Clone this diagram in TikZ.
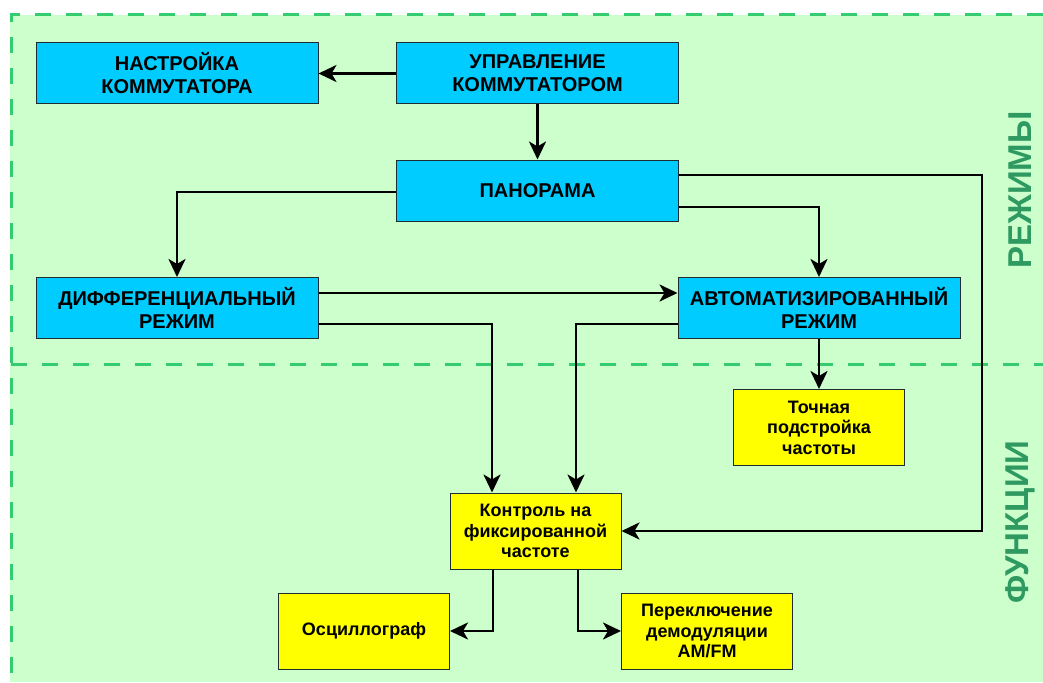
\documentclass[tikz,border=0pt]{standalone}
\usepackage{fontspec}
\setmainfont{Liberation Sans}
\usetikzlibrary{arrows.meta}
\definecolor{bg}{HTML}{CCFFCC}
\definecolor{dashg}{HTML}{33CC70}
\definecolor{lblg}{HTML}{2E9960}
\definecolor{cyanbox}{HTML}{00CCFF}
\definecolor{yelbox}{HTML}{FFFF00}
\definecolor{edge}{HTML}{1E2E30}
\begin{document}
\begin{tikzpicture}[x=1pt,y=-1pt,
  boxbase/.style={draw=edge, line width=1pt, inner sep=0pt, align=center},
  bluebox/.style={boxbase, fill=cyanbox, minimum width=282pt, minimum height=61pt,
    font=\bfseries\fontsize{20}{23}\selectfont},
  yelbox/.style={boxbase, fill=yelbox, minimum width=171pt, minimum height=76pt,
    font=\bfseries\fontsize{18}{20.5}\selectfont},
  arr/.style={line width=2.8pt, black, -{Stealth[length=18pt,width=17pt,inset=5pt]}},
  divline/.style={dashg, line width=3pt, dash pattern=on 16pt off 15pt},
  sidelbl/.style={rotate=90, text=lblg, font=\bfseries\fontsize{33}{33}\selectfont}
]
\useasboundingbox (0,0) rectangle (1043,682);
\fill[bg] (10,15) rectangle (1043,682);
\draw[divline] (1043,15) -- (11,15) -- (11,682);
\draw[divline] (11,364) -- (1043,364);

\node[bluebox] (nast) at (177,73.5) {НАСТРОЙКА\\КОММУТАТОРА};
\node[bluebox] (upr) at (537.5,73.5) {УПРАВЛЕНИЕ\\КОММУТАТОРОМ};
\node[bluebox] (pan) at (537.5,190.5) {ПАНОРАМА};
\node[bluebox] (dif) at (177,308) {ДИФФЕРЕНЦИАЛЬНЫЙ\\РЕЖИМ};
\node[bluebox] (avt) at (819,308) {АВТОМАТИЗИРОВАННЫЙ\\РЕЖИМ};

\node[yelbox] (toch) at (819,427.5) {Точная\\подстройка\\частоты};
\node[yelbox] (kontr) at (535.5,531) {Контроль на\\фиксированной\\частоте};
\node[yelbox] (osc) at (364,631) {Осциллограф};
\node[yelbox] (per) at (707,631) {Переключение\\демодуляции\\AM/FM};

\node[sidelbl] (rej) at (1020,190) {РЕЖИМЫ};
\node[sidelbl] (fun) at (1020,522) {ФУНКЦИИ};

\coordinate (rc) at (982,175);

\draw[arr] (upr.west) -- (nast.east);
\draw[arr] (upr.south) -- (pan.north);
\draw[arr] ([yshift=-1.5pt]pan.west) -| (dif.north);
\draw[arr] ([yshift=-16.5pt]pan.east) -| (avt.north);
\draw[arr] ([yshift=15.5pt]pan.east) -- (rc) |- (kontr.east);
\draw[arr] ([yshift=15pt]dif.east) -- ([yshift=15pt]avt.west);
\draw[arr] ([yshift=-16pt]dif.east) -| ([xshift=-43.5pt]kontr.north);
\draw[arr] ([yshift=-16pt]avt.west) -| ([xshift=40.5pt]kontr.north);
\draw[arr] (avt.south) -- (toch.north);
\draw[arr] ([xshift=-42.5pt]kontr.south) |- (osc.east);
\draw[arr] ([xshift=42.5pt]kontr.south) |- (per.west);
\end{tikzpicture}
\end{document}
